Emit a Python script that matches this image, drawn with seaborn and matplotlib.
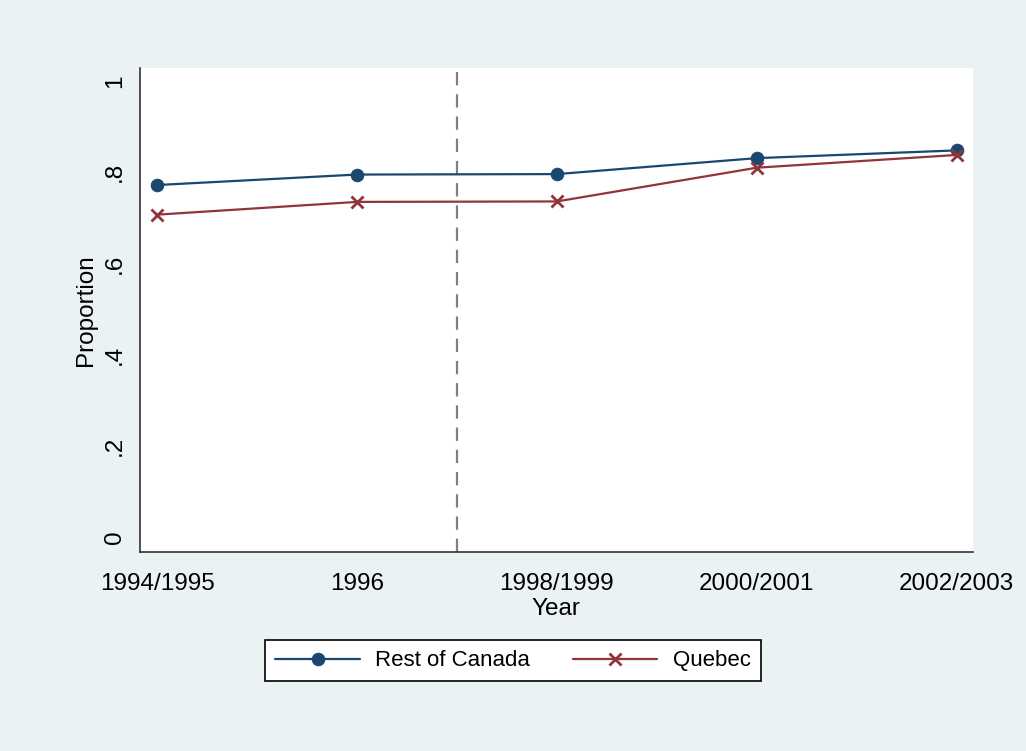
import matplotlib
matplotlib.use("Agg")
import matplotlib.pyplot as plt
import seaborn as sns
import pandas as pd

years = ["1994/1995", "1996", "1998/1999", "2000/2001", "2002/2003"]
rest_of_canada = [0.772, 0.795, 0.796, 0.831, 0.848]
quebec = [0.707, 0.735, 0.736, 0.810, 0.838]
yticks = [0, 0.2, 0.4, 0.6, 0.8, 1.0]
ytick_labels = ["0", ".2", ".4", ".6", ".8", "1"]

navy = "#1a476f"
maroon = "#90353b"
bg = "#eaf2f3"
fs = 17.5

sns.set_theme(style="white")
plt.rcParams["font.family"] = ["Liberation Sans", "DejaVu Sans"]
plt.rcParams["text.color"] = "black"
plt.rcParams["xtick.color"] = "#222222"
plt.rcParams["ytick.color"] = "#222222"
plt.rcParams["xtick.labelcolor"] = "black"
plt.rcParams["ytick.labelcolor"] = "black"
plt.rcParams["axes.labelcolor"] = "black"

df = pd.DataFrame({
    "pos": list(range(len(years))) * 2,
    "Proportion": rest_of_canada + quebec,
    "region": ["Rest of Canada"] * len(years) + ["Quebec"] * len(years),
})

fig = plt.figure(figsize=(10.26, 7.51), dpi=100, facecolor=bg)
ax = fig.add_axes([0.1365, 0.265, 0.8115, 0.644])
ax.set_facecolor("white")

sns.lineplot(data=df[df.region == "Rest of Canada"], x="pos", y="Proportion",
             color=navy, marker="o", markersize=9, markeredgecolor=navy,
             linewidth=1.6, ax=ax, label="Rest of Canada")
sns.lineplot(data=df[df.region == "Quebec"], x="pos", y="Proportion",
             color=maroon, marker="x", markersize=8, markeredgewidth=2,
             markeredgecolor=maroon, linewidth=1.6, ax=ax, label="Quebec")

ax.axvline(1.5, color="#808080", linestyle=(0, (6, 4)), linewidth=1.6, zorder=0)

ax.set_xlim(-0.085, 4.08)
ax.set_ylim(-0.033, 1.028)
ax.set_xticks(range(len(years)))
ax.set_xticklabels(years, fontsize=fs)
ax.set_yticks(yticks)
ax.set_yticklabels(ytick_labels, fontsize=fs, rotation=90, va="center")
ax.tick_params(axis="x", direction="out", length=10, width=1.2, pad=5)
ax.tick_params(axis="y", direction="out", length=8, width=1.2, pad=2)
ax.set_xlabel("Year", fontsize=fs, labelpad=2)
ax.set_ylabel("Proportion", fontsize=fs, labelpad=5)

for side in ["top", "right"]:
    ax.spines[side].set_visible(False)
for side in ["left", "bottom"]:
    ax.spines[side].set_color("#333333")
    ax.spines[side].set_linewidth(1.2)

ax.get_legend().remove()
handles, labels = ax.get_legend_handles_labels()
leg = fig.legend(handles, labels, loc="center", bbox_to_anchor=(0.5, 0.12),
                 ncol=2, fontsize=16, frameon=True, fancybox=False,
                 edgecolor="black", facecolor="white", framealpha=1,
                 handlelength=3.8, columnspacing=1.9, borderpad=0.45,
                 handletextpad=0.7)
leg.get_frame().set_linewidth(1.2)

fig.savefig("out.png", dpi=100, facecolor=bg)
